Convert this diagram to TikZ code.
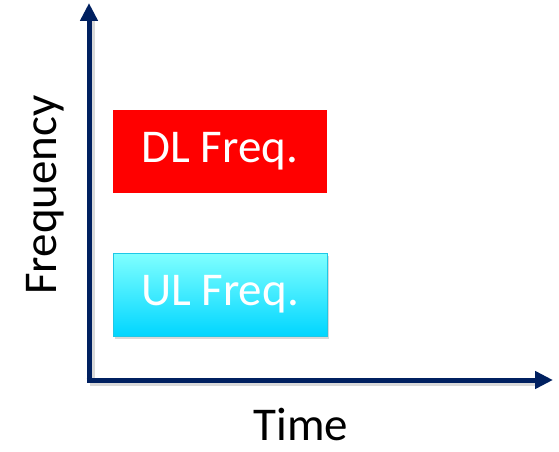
\documentclass[tikz,border=0pt]{standalone}
\usepackage{fontspec}
\setmainfont{Carlito}
\usetikzlibrary{arrows.meta,shadows}
\definecolor{navy}{RGB}{0,32,96}
\definecolor{ultop}{RGB}{128,255,255}
\definecolor{ulbot}{RGB}{0,214,255}
\definecolor{ulborder}{RGB}{30,200,230}
\tikzset{
  axis/.style={draw=navy,line width=5pt,-{Triangle[width=17pt,length=18pt]}},
  axshadow/.style={draw=black!15,line width=5pt},
  freqbox/.style={minimum width=214pt,minimum height=83pt,inner sep=0pt,text=white,font=\fontsize{47}{50}\selectfont},
  axlabel/.style={font=\fontsize{47}{50}\selectfont,text=black,inner sep=0pt}
}
\begin{document}
\begin{tikzpicture}[x=1pt,y=-1pt]
\useasboundingbox (0,0) rectangle (559,452);
\coordinate (o) at (89,380);
\coordinate (ytip) at (89,3);
\coordinate (xtip) at (553,380);
% shadows of axes
\draw[axshadow] (92,20) -- (92,383) -- (538,383);
\draw[axis] (89,382.5) -- (ytip);
\draw[axis] (86.5,380) -- (xtip);
\node[freqbox,fill=red] (dl) at (220,151.5) {DL Freq.};
\node[freqbox,draw=ulborder,line width=1pt,top color=ultop,bottom color=ulbot,
  drop shadow={shadow xshift=2pt,shadow yshift=-3pt,opacity=0.3}] (ul) at (220,294.5) {UL Freq.};
\node[axlabel,rotate=90] (freq) at (45,195) {Frequency};
\node[axlabel,anchor=base,text depth=0pt] (time) at (301,440) {Time};
\end{tikzpicture}
\end{document}
